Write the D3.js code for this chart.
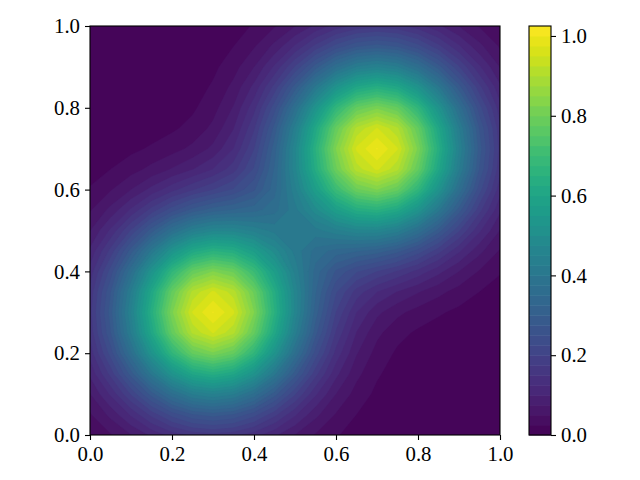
<!DOCTYPE html>
<head>
  <meta charset="utf-8">
  <script src="https://d3js.org/d3.v7.min.js"></script>
  <style>
    body { margin:0; background:#fff; }
    text { font-family: "Liberation Serif", "Times New Roman", serif; font-size: 20.8px; fill: #000; }
  </style>
</head>
<body>
<script>
  // grid the surface is sampled on (21 x 21, step 0.05)
  var gridStep = 0.05;
  var gridN = 21;
  // the two bumps
  var peakX = [0.3, 0.7];
  var peakY = [0.3, 0.7];
  var peakHeight = [1, 1];
  var peakSpread = [0.05, 0.05];   // exp(-r^2 / spread)
  // contour levels, as on the colorbar
  var levelStep = 0.025;
  var levelMax = 1.025;
  var axisTicks = [0, 0.2, 0.4, 0.6, 0.8, 1.0];
  var cbarTicks = [0, 0.2, 0.4, 0.6, 0.8, 1.0];

  var width = 640, height = 480;
  var plot = {left: 90, right: 500, top: 26, bottom: 435};
  var cbar = {left: 529, right: 551, top: 26, bottom: 435};

  var svg = d3.select("body").append("svg")
    .attr("width", width)
    .attr("height", height);

  var x = d3.scaleLinear().domain([0, 1]).range([plot.left, plot.right]);
  var y = d3.scaleLinear().domain([0, 1]).range([plot.bottom, plot.top]);
  var c = d3.scaleLinear().domain([0, levelMax]).range([cbar.bottom, cbar.top]);

  var levels = d3.range(0, Math.round(levelMax / levelStep) + 1).map(function(i) { return +(i * levelStep).toFixed(4); });
  var bandColor = function(lo) { return d3.interpolateViridis((lo + levelStep / 2) / levelMax); };

  // sample the surface
  var values = new Array(gridN * gridN);
  for (var j = 0; j < gridN; j++) {
    for (var i = 0; i < gridN; i++) {
      var gx = i * gridStep, gy = j * gridStep, v = 0;
      for (var k = 0; k < peakX.length; k++) {
        var r2 = (gx - peakX[k]) * (gx - peakX[k]) + (gy - peakY[k]) * (gy - peakY[k]);
        v += peakHeight[k] * Math.exp(-r2 / peakSpread[k]);
      }
      values[j * gridN + i] = v;
    }
  }

  var contours = d3.contours()
    .size([gridN, gridN])
    .thresholds(levels.slice(0, -1))(values);

  // grid cell centres sit at (index + 0.5) in contour space
  var project = d3.geoTransform({
    point: function(px, py) {
      this.stream.point(x((px - 0.5) * gridStep), y((py - 0.5) * gridStep));
    }
  });
  var path = d3.geoPath(project);

  svg.append("clipPath").attr("id", "clip")
    .append("rect")
    .attr("x", plot.left).attr("y", plot.top)
    .attr("width", plot.right - plot.left).attr("height", plot.bottom - plot.top);

  svg.append("g")
    .attr("clip-path", "url(#clip)")
    .selectAll("path")
    .data(contours)
    .enter().append("path")
    .attr("d", path)
    .attr("fill", function(d) { return bandColor(d.value); })
    .attr("stroke", function(d) { return bandColor(d.value); })
    .attr("stroke-width", 0.3);

  // axes
  var fmt = d3.format(".1f");
  var xAxis = svg.append("g")
    .attr("transform", "translate(0," + plot.bottom + ")")
    .call(d3.axisBottom(x).tickValues(axisTicks).tickFormat(fmt).tickSize(5).tickPadding(5));
  var yAxis = svg.append("g")
    .attr("transform", "translate(" + plot.left + ",0)")
    .call(d3.axisLeft(y).tickValues(axisTicks).tickFormat(fmt).tickSize(5).tickPadding(5));
  [xAxis, yAxis].forEach(function(a) {
    a.select(".domain").remove();
    a.selectAll("line").attr("stroke", "#000").attr("stroke-width", 1.1);
    a.selectAll("text").attr("font-family", null).attr("font-size", null);
  });
  xAxis.selectAll("text").attr("dy", "0.78em");

  svg.append("rect")
    .attr("x", plot.left).attr("y", plot.top)
    .attr("width", plot.right - plot.left).attr("height", plot.bottom - plot.top)
    .attr("fill", "none").attr("stroke", "#000").attr("stroke-width", 1.1);

  // colorbar
  svg.append("g").selectAll("rect")
    .data(levels.slice(0, -1))
    .enter().append("rect")
    .attr("x", cbar.left)
    .attr("width", cbar.right - cbar.left)
    .attr("y", function(d) { return c(d + levelStep); })
    .attr("height", function(d) { return c(d) - c(d + levelStep) + 0.5; })
    .attr("fill", bandColor);

  var cAxis = svg.append("g")
    .attr("transform", "translate(" + cbar.right + ",0)")
    .call(d3.axisRight(c).tickValues(cbarTicks).tickFormat(fmt).tickSize(5).tickPadding(5));
  cAxis.select(".domain").remove();
  cAxis.selectAll("line").attr("stroke", "#000").attr("stroke-width", 1.1);
  cAxis.selectAll("text").attr("font-family", null).attr("font-size", null);

  svg.append("rect")
    .attr("x", cbar.left).attr("y", cbar.top)
    .attr("width", cbar.right - cbar.left).attr("height", cbar.bottom - cbar.top)
    .attr("fill", "none").attr("stroke", "#000").attr("stroke-width", 1.1);
</script>
</body>
